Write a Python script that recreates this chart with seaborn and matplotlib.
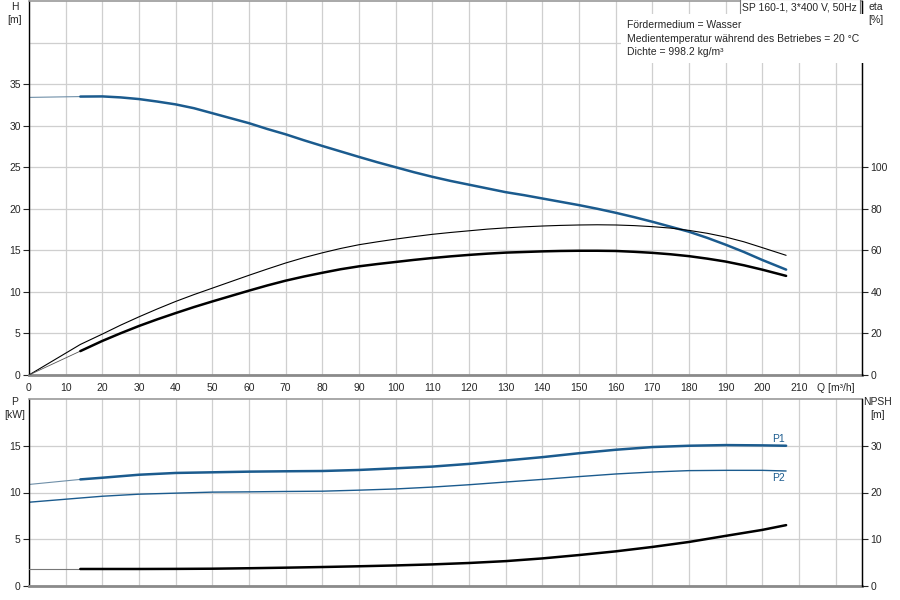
import matplotlib
matplotlib.use('Agg')
import matplotlib.pyplot as plt
import pandas as pd
import seaborn as sns

# values
# upper chart: flow, head [m], efficiency curves [%]
q_top = [0, 14, 20, 25, 30, 35, 40, 45, 50, 55, 60, 65, 70, 75, 80, 85, 90, 95, 100,
         105, 110, 115, 120, 125, 130, 135, 140, 145, 150, 155, 160, 165, 170, 175,
         180, 185, 190, 195, 200, 206.5]
head = [33.4, 33.5, 33.52, 33.4, 33.2, 32.9, 32.56, 32.1, 31.5, 30.9, 30.3, 29.6, 28.96,
        28.24, 27.56, 26.9, 26.24, 25.6, 25.0, 24.4, 23.85, 23.35, 22.9, 22.45, 22.0,
        21.64, 21.24, 20.84, 20.44, 20.0, 19.52, 19.0, 18.44, 17.84, 17.24, 16.5, 15.68,
        14.8, 13.84, 12.68]
eta_pump = [0, 14.7, 19.7, 24.0, 28.0, 31.8, 35.4, 38.7, 41.8, 44.9, 48.0, 51.0, 53.9,
            56.5, 58.8, 60.9, 62.7, 64.1, 65.4, 66.6, 67.7, 68.6, 69.4, 70.2, 70.8, 71.3,
            71.7, 72.0, 72.2, 72.3, 72.2, 71.9, 71.4, 70.7, 69.6, 68.2, 66.4, 64.1, 61.3,
            57.6]
eta_total = [0, 11.5, 16.4, 20.1, 23.6, 26.8, 29.8, 32.7, 35.4, 38.0, 40.6, 43.1, 45.4,
             47.4, 49.2, 50.9, 52.3, 53.4, 54.4, 55.4, 56.3, 57.1, 57.8, 58.4, 58.9, 59.2,
             59.5, 59.7, 59.8, 59.8, 59.7, 59.3, 58.8, 58.1, 57.2, 56.0, 54.6, 52.8, 50.7,
             47.7]

# lower chart: flow, power [kW], NPSH [m]
q_bot = [0, 14, 20, 30, 40, 50, 60, 70, 80, 90, 100, 110, 120, 130, 140, 150, 160, 170,
         180, 190, 200, 206.5]
p1 = [10.86, 11.4, 11.58, 11.9, 12.09, 12.16, 12.23, 12.27, 12.3, 12.41, 12.59, 12.77,
      13.06, 13.42, 13.78, 14.2, 14.57, 14.86, 15.0, 15.07, 15.04, 15.0]
p2 = [8.96, 9.41, 9.6, 9.82, 9.93, 10.04, 10.07, 10.11, 10.14, 10.25, 10.38, 10.58,
      10.83, 11.12, 11.4, 11.7, 11.98, 12.19, 12.34, 12.37, 12.37, 12.3]
npsh = [3.64, 3.64, 3.64, 3.64, 3.66, 3.7, 3.8, 3.92, 4.06, 4.22, 4.4, 4.62, 4.92, 5.32,
        5.9, 6.62, 7.41, 8.35, 9.42, 10.72, 12.0, 13.02]

q_ticks = list(range(0, 230, 10))
q_labels = [str(t) for t in range(0, 220, 10)] + ['Q [m³/h]']
h_ticks = list(range(0, 45, 5))
eta_ticks = list(range(0, 120, 20))
p_ticks = [0, 5, 10, 15]
npsh_ticks = [0, 10, 20, 30]

info_lines = ['Fördermedium = Wasser',
              'Medientemperatur während des Betriebes = 20 °C',
              'Dichte = 998.2 kg/m³']
title = 'SP 160-1, 3*400 V, 50Hz'

sns.set_style('white')
plt.rcParams['font.family'] = ['Liberation Sans', 'DejaVu Sans']
plt.rcParams['font.size'] = 7.5

blue = '#1b5b8e'
grid_col = '#cfcfcf'

top = pd.DataFrame({'Q': q_top, 'H': head, 'eta': eta_pump, 'eta_tot': eta_total})
bot = pd.DataFrame({'Q': q_bot, 'P1': p1, 'P2': p2, 'NPSH': npsh})
top_start, top_main = top[top['Q'] <= 14], top[top['Q'] >= 14]
bot_start, bot_main = bot[bot['Q'] <= 14], bot[bot['Q'] >= 14]

fig = plt.figure(figsize=(9, 6), dpi=100)
ax_h = fig.add_axes([29/900, 225/600, 833/900, 374/600])
ax_eta = ax_h.twinx()
ax_p = fig.add_axes([29/900, 14/600, 833/900, 187/600])
ax_npsh = ax_p.twinx()

# head and efficiency
sns.lineplot(data=top_start, x='Q', y='H', ax=ax_h, color='#6f8fa8', lw=0.8, legend=False)
sns.lineplot(data=top_main, x='Q', y='H', ax=ax_h, color=blue, lw=1.8, legend=False)
sns.lineplot(data=top, x='Q', y='eta', ax=ax_eta, color='black', lw=0.8, legend=False)
sns.lineplot(data=top_start, x='Q', y='eta_tot', ax=ax_eta, color='#555555', lw=0.6, legend=False)
sns.lineplot(data=top_main, x='Q', y='eta_tot', ax=ax_eta, color='black', lw=1.8, legend=False)

# power and NPSH
sns.lineplot(data=bot_start, x='Q', y='P1', ax=ax_p, color='#6f8fa8', lw=0.8, legend=False)
sns.lineplot(data=bot_main, x='Q', y='P1', ax=ax_p, color=blue, lw=1.8, legend=False)
sns.lineplot(data=bot, x='Q', y='P2', ax=ax_p, color=blue, lw=1.0, legend=False)
sns.lineplot(data=bot_start, x='Q', y='NPSH', ax=ax_npsh, color='#777777', lw=0.8, legend=False)
sns.lineplot(data=bot_main, x='Q', y='NPSH', ax=ax_npsh, color='black', lw=1.8, legend=False)

ax_p.text(204.3, 15.75, 'P1', color=blue, ha='center', va='center')
ax_p.text(204.3, 11.57, 'P2', color=blue, ha='center', va='center')

for ax in (ax_h, ax_eta, ax_p, ax_npsh):
    ax.set_xlim(0, 227.2)
    ax.set_xlabel('')
    ax.set_ylabel('')

ax_h.set_ylim(0, 45)
ax_eta.set_ylim(0, 180)
ax_p.set_ylim(0, 20)
ax_npsh.set_ylim(0, 40)

ax_h.set_xticks(q_ticks)
ax_h.set_xticklabels(q_labels)
ax_h.set_yticks(h_ticks)
ax_h.set_yticklabels([str(t) for t in h_ticks[:-1]] + [''])
ax_h.yaxis.get_major_ticks()[-1].tick1line.set_visible(False)
ax_eta.set_yticks(eta_ticks)
ax_p.set_xticks(q_ticks)
ax_p.set_xticklabels([])
ax_p.set_yticks(p_ticks)
ax_npsh.set_yticks(npsh_ticks)

for ax in (ax_h, ax_p):
    ax.grid(True, color=grid_col, lw=0.9)
    ax.set_axisbelow(True)
    ax.tick_params(axis='y', direction='out', length=4, width=0.8, pad=2, labelsize=7.5)
    ax.spines['left'].set_color('black')
    ax.spines['left'].set_linewidth(1.0)
    ax.spines['bottom'].set_color('#8a8a8a')
    ax.spines['bottom'].set_linewidth(2.0)
    ax.spines['top'].set_color('#9a9a9a')
    ax.spines['top'].set_linewidth(1.2)
for ax in (ax_eta, ax_npsh):
    ax.tick_params(axis='y', direction='out', length=4, width=0.8, pad=2, labelsize=7.5)
    ax.spines['right'].set_color('black')
    ax.spines['right'].set_linewidth(1.0)
    ax.spines['top'].set_visible(False)
    ax.spines['bottom'].set_visible(False)
    ax.spines['left'].set_visible(False)

ax_h.tick_params(axis='x', direction='out', length=4, width=0.8, color='#666666', pad=2, labelsize=7.5)
ax_p.tick_params(axis='x', length=0)

# axis captions
fig.text(15/900, 1 - 2/600, 'H\n[m]', ha='center', va='top', fontsize=7.5, linespacing=1.35)
fig.text(876/900, 1 - 2/600, 'eta\n[%]', ha='center', va='top', fontsize=7.5, linespacing=1.35)
fig.text(15/900, 1 - 397/600, 'P\n[kW]', ha='center', va='top', fontsize=7.5, linespacing=1.35)
fig.text(878/900, 1 - 397/600, 'NPSH\n[m]', ha='center', va='top', fontsize=7.5, linespacing=1.35)

# title box and medium info
fig.text(857/900, 1 - 7/600, title, ha='right', va='center', fontsize=7.5,
         bbox=dict(boxstyle='square,pad=0.25', facecolor='white', edgecolor='#777777', lw=0.8))
fig.text(627/900, 1 - 20/600, '\n'.join(info_lines), ha='left', va='top', fontsize=7.5,
         linespacing=1.45,
         bbox=dict(boxstyle='square,pad=0.6', facecolor='white', edgecolor='none'))

plt.savefig('out.png', dpi=100)
